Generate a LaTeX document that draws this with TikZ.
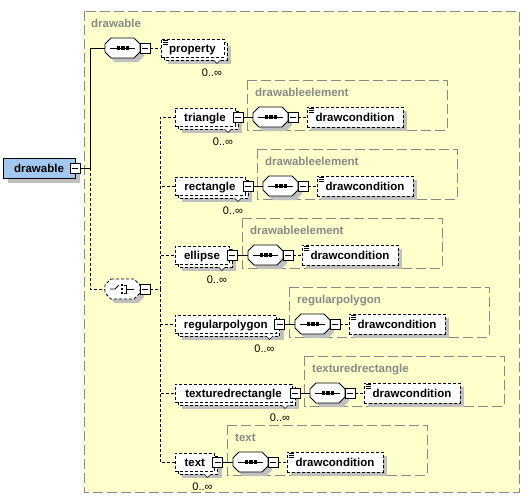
\documentclass[tikz,border=0pt]{standalone}
\usepackage{fontspec}
\setmainfont{Liberation Sans}
\definecolor{bgy}{RGB}{255,255,204}
\definecolor{shd}{RGB}{192,192,192}
\definecolor{grp}{RGB}{136,136,136}
\definecolor{rootblue}{RGB}{163,200,240}
\tikzset{
  base/.style={font=\fontsize{11.5}{13}\selectfont\bfseries, text height=8pt, text depth=0pt, inner sep=0pt},
  elembox/.style={base, draw=black, fill=white, line width=0.8pt, dash pattern=on 3pt off 2pt, minimum height=18pt},
  dcbox/.style={elembox, minimum height=20pt},
  rootbox/.style={base, draw=black, fill=rootblue, line width=0.8pt, minimum height=20pt, minimum width=72pt},
  backbox/.style={draw=black, fill=white, line width=0.8pt, dash pattern=on 3pt off 2pt},
  occ/.style={font=\fontsize{11}{12}\selectfont, inner sep=0pt},
  grplbl/.style={font=\fontsize{11.5}{13}\selectfont\bfseries, text=grp, inner sep=0pt, anchor=base west},
  grpbox/.style={draw=grp, line width=1pt, dash pattern=on 10pt off 4pt},
  conn/.style={line width=0.8pt},
  dconn/.style={line width=0.8pt, dash pattern=on 3pt off 2pt},
  octo/.style={draw=black, fill=white, line width=0.8pt},
  minusbox/.style={draw=black, fill=white, line width=0.8pt, inner sep=0pt, minimum size=10pt,
    path picture={\draw[line width=0.8pt] ([xshift=2pt]path picture bounding box.west) -- ([xshift=-2pt]path picture bounding box.east);}},
}
\newcommand\octshape[1]{\path[#1] (6,-10) -- (29,-10) -- (35,-4) -- (35,4) -- (29,10) -- (6,10) -- (0,4) -- (0,-4) -- cycle;}
\newcommand\octa[4]{% id, L, Y, extra style
  \begin{scope}[shift={({#2+4},{#3+4})}]\octshape{fill=shd}\end{scope}
  \begin{scope}[shift={({#2},{#3})}]\octshape{octo,#4}
    \node[inner sep=0pt, minimum width=35pt, minimum height=20pt] (#1) at (17.5,0) {};\end{scope}}
\newcommand\seqicon[2]{% L, Y
  \begin{scope}[shift={({#1},{#2})}]
    \draw[line width=0.8pt] (5,0) -- (30,0);
    \fill (11.8,-1.7) rectangle (15.2,1.7);
    \fill (16.3,-1.7) rectangle (19.7,1.7);
    \fill (20.8,-1.7) rectangle (24.2,1.7);
  \end{scope}}
\newcommand\icon[2]{% left, top
  \draw[line width=0.6pt] ({#1+2},{#2+1.2}) -- ({#1+7},{#2+1.2})
    ({#1+2},{#2+3}) -- ({#1+7},{#2+3}) ({#1+2},{#2+4.8}) -- ({#1+7},{#2+4.8});}
\newcommand\multielem[5]{% id, left, right, Y, text
  \fill[shd] ({#2+7},{#4-2}) rectangle ({#3+7},{#4+16});
  \draw[backbox] ({#2+3},{#4-6}) rectangle ({#3+3},{#4+12});
  \node[elembox, minimum width={#3-#2}] (#1) at ({(#2+#3)/2},{#4}) {#5};
  \draw[line width=0.6pt, fill=white] ({#3-10.5},{#4+12}) -- ({#3-7},{#4+15.5}) -- ({#3-3.5},{#4+12});
  \node[occ] (#1occ) at ({#3-12},{#4+25}) {0..∞};}
\newcommand\dcelem[3]{% id, left, Y
  \fill[shd] ({#2+4},{#3-6}) rectangle ({#2+100},{#3+14});
  \node[dcbox, minimum width=96pt] (#1) at ({#2+48},{#3}) {drawcondition};
  \icon{#2}{#3-10}}
\newcommand\grp[4]{% id, GL, Y, label
  \draw[grpbox] ({#2},{#3-37}) rectangle ({#2+200},{#3+13});
  \node[grplbl] (#1lbl) at ({#2+8},{#3-20.5}) {#4};
  \octa{#1seq}{#2+6}{#3}{}
  \seqicon{#2+6}{#3}
  \node[minusbox] (#1seqm) at ({#2+46},{#3}) {};
  \dcelem{#1dc}{#2+60}{#3}}
\newcommand\elemrow[6]{% id, right, Y, text, GL, group label
  \multielem{#1}{175}{#2}{#3}{#4}
  \node[minusbox] (#1m) at ({#2+3},{#3}) {};
  \grp{#1}{#5}{#3}{#6}}
\begin{document}
\begin{tikzpicture}[x=1pt,y=-1pt]
\useasboundingbox (0,0) rectangle (526,499);
% outer group
\draw[grpbox, fill=bgy] (84,11) rectangle (519,492);
\node[grplbl] (outerlbl) at (91,27) {drawable};
% root
\fill[shd] (8,163) rectangle (80,183);
\node[rootbox] (root) at (39,168) {drawable};
\node[minusbox] (rootm) at (75,168) {};
% top sequence and property
\octa{seqtop}{105}{48}{}
\seqicon{105}{48}
\node[minusbox] (seqtopm) at (145,48) {};
\multielem{property}{161}{224}{48}{property}
\icon{161}{39}
% choice
\octa{choice}{105}{289}{dash pattern=on 3pt off 2pt}
\begin{scope}[shift={(105,289)}]
  \draw[line width=0.8pt] (5,0) -- (10,0) -- (14,-4);
  \fill (15.8,-5.2) rectangle (18.2,-2.8);
  \fill (15.8,-1.2) rectangle (18.2,1.2);
  \fill (15.8,2.8) rectangle (18.2,5.2);
  \draw[line width=0.8pt] (18.5,-4) -- (21.5,-4) -- (21.5,4) -- (18.5,4);
  \draw[line width=0.8pt] (21.5,0) -- (29,0);
\end{scope}
\node[minusbox] (choicem) at (145,289) {};
% rows
\elemrow{tri}{235}{117}{triangle}{247}{drawableelement}
\elemrow{rect}{245}{186}{rectangle}{257}{drawableelement}
\elemrow{ell}{229}{255}{ellipse}{242}{drawableelement}
\elemrow{reg}{276.5}{324}{regularpolygon}{289}{regularpolygon}
\elemrow{tex}{292}{393}{texturedrectangle}{304}{texturedrectangle}
\elemrow{txt}{214.5}{462}{text}{227}{text}
% connectors
\coordinate (j1) at (90,168);
\coordinate (j2) at (160,289);
\draw[conn] (rootm.east) -- (j1) |- (seqtop.west);
\draw[dconn] (j1) |- (choice.west);
\draw[dconn] (seqtopm.east) -- (property.west);
\draw[dconn] (choicem.east) -- (j2);
\foreach \r in {tri,rect,ell,reg,tex,txt}{
  \draw[dconn] (j2) |- (\r.west);
  \draw[conn] (\r m.east) -- (\r seq.west);
  \draw[dconn] (\r seqm.east) -- (\r dc.west);
}
\end{tikzpicture}
\end{document}
